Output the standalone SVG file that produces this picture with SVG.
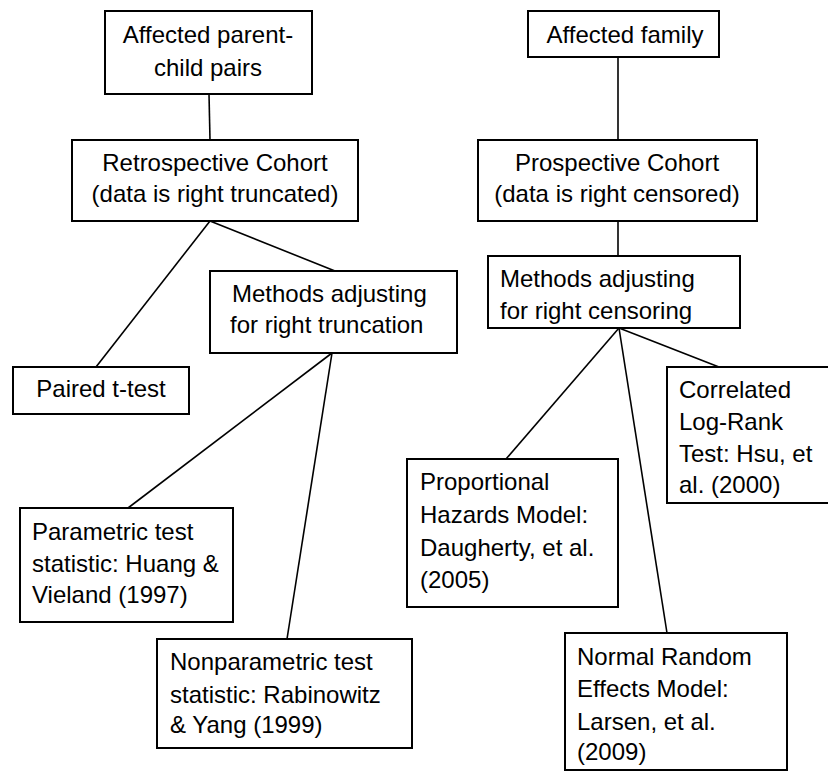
<svg xmlns="http://www.w3.org/2000/svg" width="828" height="774" viewBox="0 0 828 774">
<style>
rect{fill:#fff;stroke:#000;stroke-width:2}
line{stroke:#000;stroke-width:1.6}
text{font-family:"Liberation Sans",Arial,sans-serif;font-size:24px;fill:#000}
.c{text-anchor:middle}
</style>
<rect x="0" y="0" width="828" height="774" style="stroke:none"/>
<g id="connectors">
<line x1="209" y1="94" x2="210" y2="140"/>
<line x1="210" y1="221" x2="96" y2="367"/>
<line x1="210" y1="221" x2="335" y2="271"/>
<line x1="332" y1="353" x2="128" y2="508"/>
<line x1="332" y1="353" x2="287" y2="639"/>
<line x1="618" y1="57" x2="618" y2="140"/>
<line x1="618" y1="221" x2="618" y2="256"/>
<line x1="619" y1="328" x2="506" y2="459"/>
<line x1="619" y1="328" x2="667" y2="633"/>
<line x1="619" y1="328" x2="719" y2="367"/>
</g>
<g id="n1"><rect x="105" y="11" width="207" height="83"/><text class="c" x="208" y="43">Affected parent-</text><text class="c" x="208" y="76">child pairs</text></g>
<g id="n2"><rect x="72" y="140" width="286" height="81"/><text class="c" x="215" y="171">Retrospective Cohort</text><text class="c" x="215" y="202">(data is right truncated)</text></g>
<g id="n3"><rect x="210" y="271" width="247" height="82"/><text x="232" y="302">Methods adjusting</text><text x="230" y="333">for right truncation</text></g>
<g id="n4"><rect x="13" y="367" width="176" height="47"/><text class="c" x="101" y="397">Paired t-test</text></g>
<g id="n5"><rect x="20" y="508" width="213" height="114"/><text x="32" y="540">Parametric test</text><text x="32" y="572">statistic: Huang &amp;</text><text x="32" y="603">Vieland (1997)</text></g>
<g id="n6"><rect x="157" y="639" width="255" height="109"/><text x="170" y="670">Nonparametric test</text><text x="170" y="703">statistic: Rabinowitz</text><text x="170" y="733">&amp; Yang (1999)</text></g>
<g id="n7"><rect x="528" y="11" width="191" height="46"/><text class="c" x="625" y="43">Affected family</text></g>
<g id="n8"><rect x="478" y="140" width="279" height="81"/><text class="c" x="617" y="171">Prospective Cohort</text><text class="c" x="617" y="202">(data is right censored)</text></g>
<g id="n9"><rect x="488" y="256" width="252" height="72"/><text x="500" y="287">Methods adjusting</text><text x="500" y="319">for right censoring</text></g>
<g id="n10"><rect x="407" y="459" width="211" height="148"/><text x="420" y="490">Proportional</text><text x="420" y="523">Hazards Model:</text><text x="420" y="556">Daugherty, et al.</text><text x="420" y="588">(2005)</text></g>
<g id="n11"><rect x="667" y="367" width="170" height="136"/><text x="679" y="398">Correlated</text><text x="679" y="430">Log-Rank</text><text x="679" y="462">Test: Hsu, et</text><text x="679" y="493">al. (2000)</text></g>
<g id="n12"><rect x="565" y="633" width="222" height="137"/><text x="577" y="665">Normal Random</text><text x="577" y="697">Effects Model:</text><text x="577" y="730">Larsen, et al.</text><text x="577" y="760">(2009)</text></g>
</svg>
